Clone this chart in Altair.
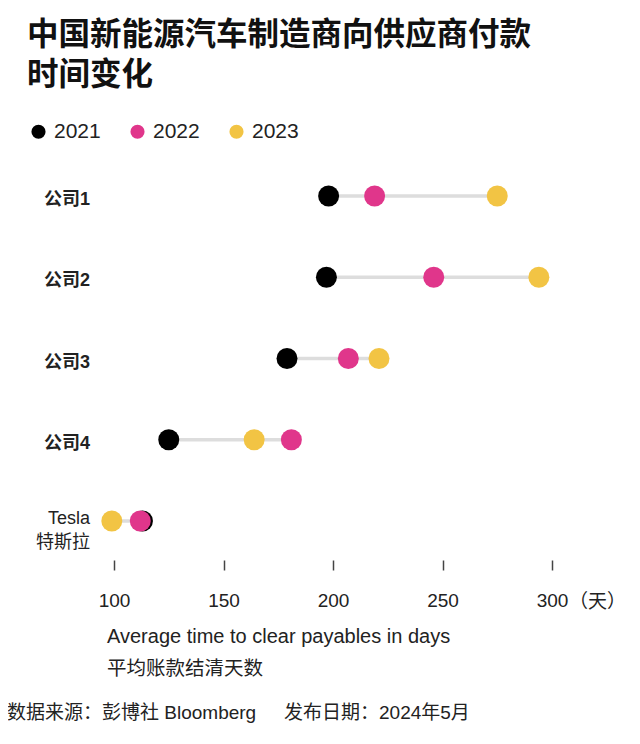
import altair as alt
import pandas as pd

# ---- data ----
companies = ["公司1", "公司2", "公司3", "公司4", "Tesla"]
label_line1 = ["公司1", "公司2", "公司3", "公司4", "Tesla"]
label_line2 = ["", "", "", "", "特斯拉"]
years = ["2021", "2022", "2023"]
days_2021 = [198, 197, 179, 125, 113]
days_2022 = [219, 246, 207, 181, 112]
days_2023 = [275, 294, 221, 164, 99]
colors = ["#000000", "#e0368b", "#f2c444"]
x_ticks = [100, 150, 200, 250, 300]
title_lines = ["中国新能源汽车制造商向供应商付款", "时间变化"]
x_title_lines = ["Average time to clear payables in days", "平均账款结清天数"]
unit_label = "（天）"
footer_parts = ["数据来源：彭博社 Bloomberg", "发布日期：2024年5月"]

rows = []
for yr, vals in zip(years, [days_2021, days_2022, days_2023]):
    for c, v in zip(companies, vals):
        rows.append({"company": c, "year": yr, "days": v})
df = pd.DataFrame(rows)
lab_df = pd.DataFrame({"company": companies, "l1": label_line1, "l2": label_line2})

W, H = 438, 403
FONT = "Liberation Sans, Noto Sans CJK SC"
CJK = "Noto Sans CJK SC, Liberation Sans"

x_scale = alt.Scale(domain=[100, 300], nice=False, zero=False)
y_scale = alt.Scale(type="point", domain=companies, padding=0.48)
x_axis = alt.Axis(
    values=x_ticks, title=None, domain=False, grid=False,
    tickSize=10, tickColor="#444444", tickWidth=1.5,
    labelFontSize=19, labelColor="#222222", labelPadding=21,
    labelFont=FONT, labelFlush=False, labelOverlap=False,
)

lines = alt.Chart(df).mark_rule(color="#dddddd", strokeWidth=3.5).encode(
    x=alt.X("min(days):Q", scale=x_scale, axis=x_axis),
    x2="max(days):Q",
    y=alt.Y("company:N", scale=y_scale, axis=None),
)

points = alt.Chart(df).mark_circle(size=440, opacity=1).encode(
    x=alt.X("days:Q", scale=x_scale, axis=x_axis),
    y=alt.Y("company:N", scale=y_scale, axis=None),
    color=alt.Color(
        "year:N",
        scale=alt.Scale(domain=years, range=colors),
        legend=alt.Legend(
            title=None, orient="none", direction="horizontal",
            legendX=-86, legendY=-36, symbolType="circle", symbolSize=200,
            symbolStrokeWidth=0, symbolOpacity=1, labelFontSize=21,
            labelFont=FONT, labelColor="#222222", labelOffset=5,
            columnPadding=26, padding=0,
        ),
    ),
    order=alt.Order("year:N"),
)

lab_main = alt.Chart(lab_df).transform_filter("datum.l2 == ''").mark_text(
    align="right", baseline="middle", dy=4, fontSize=18, fontWeight="bold",
    font=FONT, color="#222222",
).encode(x=alt.value(-24), y=alt.Y("company:N", scale=y_scale, axis=None), text="l1:N")

lab_t1 = alt.Chart(lab_df).transform_filter("datum.l2 != ''").mark_text(
    align="right", baseline="middle", dy=-2, fontSize=18, font=FONT, color="#222222",
).encode(x=alt.value(-24), y=alt.Y("company:N", scale=y_scale, axis=None), text="l1:N")

lab_t2 = alt.Chart(lab_df).transform_filter("datum.l2 != ''").mark_text(
    align="right", baseline="middle", dy=22, fontSize=18, font=CJK, color="#222222",
).encode(x=alt.value(-24), y=alt.Y("company:N", scale=y_scale, axis=None), text="l2:N")

unit = alt.Chart(pd.DataFrame({"x": [x_ticks[-1]], "t": [unit_label]})).mark_text(
    align="left", baseline="middle", dx=17, dy=1.5, fontSize=19, font=CJK, color="#222222",
).encode(x=alt.X("x:Q", scale=x_scale, axis=x_axis), y=alt.value(H + 40.5), text="t:N")


def txt(text, x, y, **kw):
    return alt.Chart(pd.DataFrame({"t": [text]})).mark_text(**kw).encode(
        x=alt.value(x), y=alt.value(y), text="t:N"
    )


title1 = txt(title_lines[0], -87, -121, align="left", baseline="middle", fontSize=31.5,
             fontWeight="bold", font=CJK, color="#111111")
title2 = txt(title_lines[1], -87, -81, align="left", baseline="middle", fontSize=31.5,
             fontWeight="bold", font=CJK, color="#111111")
xt1 = txt(x_title_lines[0], -7, 486, align="left", baseline="alphabetic", fontSize=20,
          font=FONT, color="#222222")
xt2 = txt(x_title_lines[1], -7, 511.5, align="left", baseline="middle", fontSize=19.5,
          font=CJK, color="#222222")
foot1 = txt(footer_parts[0], -107, 555.5, align="left", baseline="middle", fontSize=19,
            font=FONT, color="#222222")
foot2 = txt(footer_parts[1], 170, 555.5, align="left", baseline="middle", fontSize=19,
            font=FONT, color="#222222")

chart = alt.layer(
    lines, points, lab_main, lab_t1, lab_t2, unit,
    title1, title2, xt1, xt2, foot1, foot2,
).properties(
    width=W, height=H,
    autosize=alt.AutoSizeParams(type="none"),
    padding={"left": 106, "top": 149, "right": 74, "bottom": 170},
    background="white",
).configure_view(stroke=None)

chart.save("out.html", embed_options={"renderer": "svg", "actions": False})
